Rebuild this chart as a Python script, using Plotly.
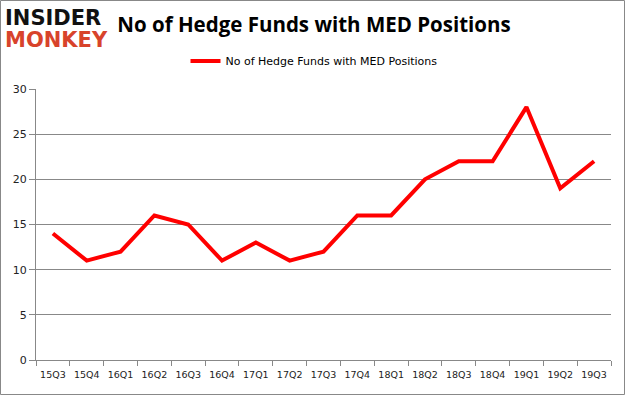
import plotly.graph_objects as go

quarters = ["15Q3", "15Q4", "16Q1", "16Q2", "16Q3", "16Q4", "17Q1", "17Q2", "17Q3",
            "17Q4", "18Q1", "18Q2", "18Q3", "18Q4", "19Q1", "19Q2", "19Q3"]
hedge_funds = [14, 11, 12, 16, 15, 11, 13, 11, 12, 16, 16, 20, 22, 22, 28, 19, 22]
series_name = "No of Hedge Funds with MED Positions"
y_ticks = [0, 5, 10, 15, 20, 25, 30]

W, H = 625, 395
L, R, T, B = 36, 14, 89, 35
pw, ph = W - L - R, H - T - B

fig = go.Figure()
fig.add_trace(go.Scatter(
    x=quarters, y=hedge_funds, mode="lines", name=series_name,
    line=dict(color="#ff0000", width=4),
))

fig.update_layout(
    width=W, height=H,
    margin=dict(l=L, r=R, t=T, b=B, autoexpand=False),
    paper_bgcolor="white", plot_bgcolor="white",
    font=dict(family="DejaVu Sans", size=10, color="#222"),
    title=dict(text="<b>No of Hedge Funds with MED Positions</b>",
               x=314 / W, xanchor="center", y=1 - 25 / H, yanchor="middle",
               font=dict(family="Open Sans", size=20.5, color="#000")),
    showlegend=True,
    legend=dict(orientation="h", x=(314 - L) / pw, xanchor="center", y=1 + (T - 61) / ph,
                yanchor="middle", font=dict(family="DejaVu Sans", size=11, color="#000"),
                bgcolor="rgba(0,0,0,0)"),
    xaxis=dict(type="category", showgrid=False, showline=True, linecolor="#888",
               ticks="outside", tickson="boundaries", ticklen=5, tickcolor="#888",
               range=[-0.5, len(quarters) - 0.5], tickfont=dict(size=9.5, color="#222"),
               tickangle=0, automargin=False, ticklabelstandoff=6),
    yaxis=dict(range=[0, 30], tickvals=y_ticks, showgrid=True, gridcolor="#888",
               gridwidth=1, showline=True, linecolor="#888", ticks="outside",
               ticklen=6, tickcolor="#888", zeroline=False,
               tickfont=dict(size=11, color="#222"), automargin=False),
)

# logo
fig.add_annotation(text="<b>INSIDER</b>", xref="paper", yref="paper",
                   x=(3 - L) / pw, y=1 + (T - 18) / ph, xanchor="left", yanchor="middle",
                   showarrow=False, font=dict(family="DejaVu Sans", size=21, color="#111"))
fig.add_annotation(text="<b>MONKEY</b>", xref="paper", yref="paper",
                   x=(3 - L) / pw, y=1 + (T - 40) / ph, xanchor="left", yanchor="middle",
                   showarrow=False, font=dict(family="DejaVu Sans", size=21, color="#d8432b"))

# outer border
fig.add_shape(type="rect", xref="paper", yref="paper",
              x0=(0.5 - L) / pw, x1=1 + (R - 0.5) / pw,
              y0=-(B - 0.5) / ph, y1=1 + (T - 0.5) / ph,
              line=dict(color="#888", width=1), fillcolor="rgba(0,0,0,0)")

fig.write_html("out.html", config={"displayModeBar": False},
               post_script="document.body.style.margin='0px';document.body.style.padding='0px';")
